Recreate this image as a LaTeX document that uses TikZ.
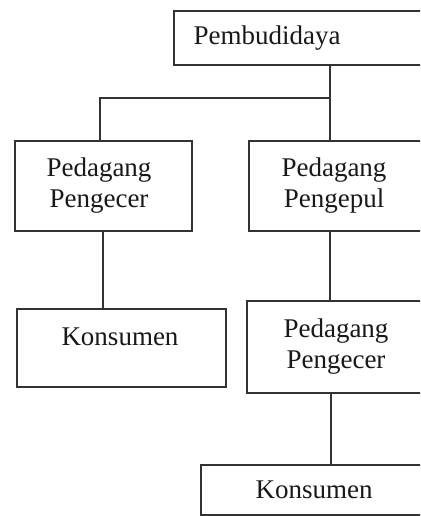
\documentclass[tikz,border=0pt]{standalone}
\usepackage{fontspec}
\setmainfont{Liberation Serif}
\begin{document}
\begin{tikzpicture}[x=1pt,y=-1pt,
  box/.style={draw=black!80, line width=1.6pt, rectangle, anchor=north west, inner sep=0pt, fill=white},
  lbl/.style={text=black!90, align=center, inner sep=0pt, font=\fontsize{27}{31}\selectfont},
  link/.style={draw=black!80, line width=1.5pt}]
\useasboundingbox (0,0) rectangle (420,516);
\clip (0,0) rectangle (420,516);
% boxes
\node[box, minimum width=260pt, minimum height=54pt] (pemb) at (173,10) {};
\node[box, minimum width=177pt, minimum height=90pt] (lpe) at (14,140) {};
\node[box, minimum width=176pt, minimum height=90pt] (pep) at (248,140) {};
\node[box, minimum width=209pt, minimum height=78pt] (lko) at (16,308) {};
\node[box, minimum width=178pt, minimum height=92pt] (rpe) at (246,300) {};
\node[box, minimum width=230pt, minimum height=50pt] (rko) at (200,464) {};
% labels
\node[lbl] (tpemb) at (267,38) {Pembudidaya};
\node[lbl] (tlpe) at (99,186) {Pedagang\\Pengecer};
\node[lbl] (tpep) at (334,186) {Pedagang\\Pengepul};
\node[lbl] (tlko) at (120,337) {Konsumen};
\node[lbl] (trpe) at (336,347) {Pedagang\\Pengecer};
\node[lbl] (trko) at (314,490) {Konsumen};
% connectors
\coordinate (j) at (330,98);
\coordinate (jl) at (100,98);
\coordinate (xl) at (103,0);
\coordinate (xr) at (331,0);
\draw[link] (j |- pemb.south) -- (j |- pep.north);
\draw[link] (j) -- (jl) -- (jl |- lpe.north);
\draw[link] (xl |- lpe.south) -- (xl |- lko.north);
\draw[link] (j |- pep.south) -- (j |- rpe.north);
\draw[link] (xr |- rpe.south) -- (xr |- rko.north);
\end{tikzpicture}
\end{document}
